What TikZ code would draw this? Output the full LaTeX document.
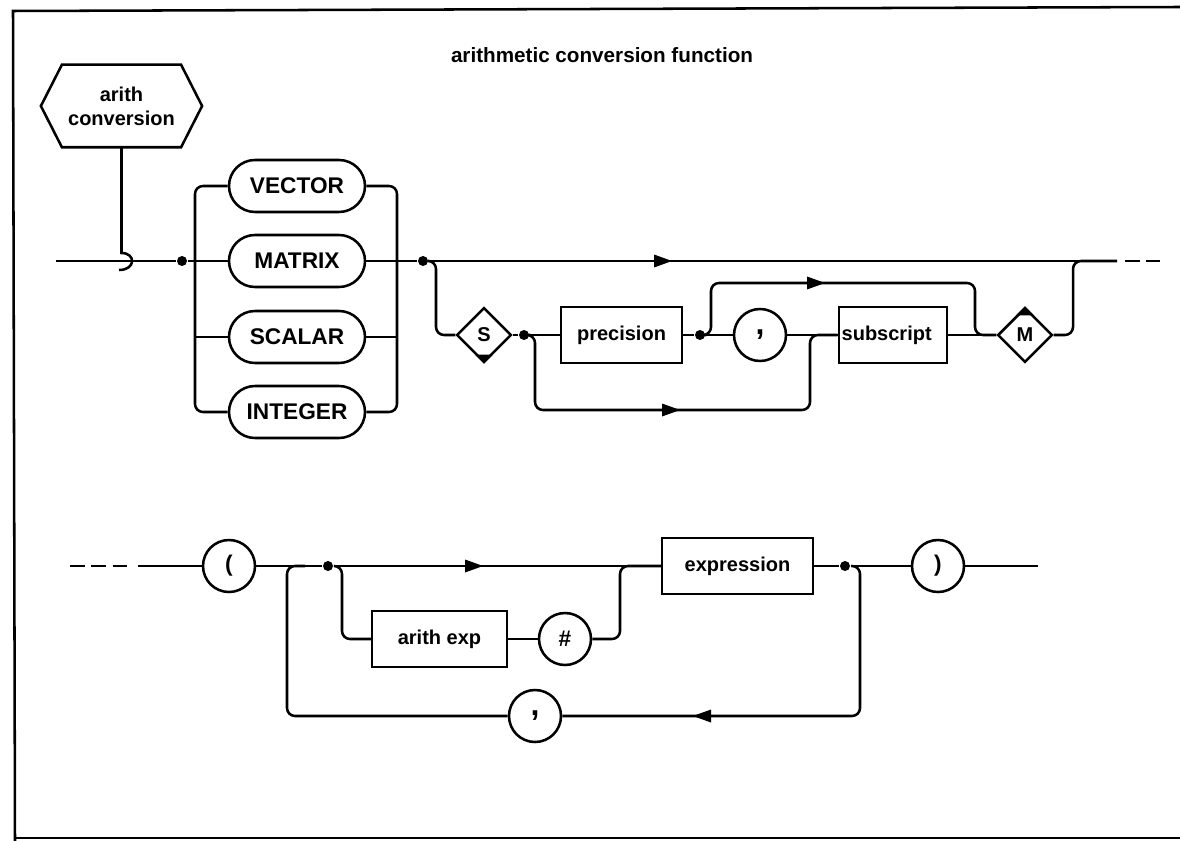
\documentclass[tikz,border=0pt]{standalone}
\usepackage{fontspec}
\setmainfont{Liberation Sans}
\usetikzlibrary{shapes.geometric,shapes.misc,calc}
\begin{document}
\begin{tikzpicture}[x=0.75pt,y=-0.75pt, line width=1.9pt,
  kw/.style={draw, rounded rectangle, minimum width=102pt, minimum height=39pt, inner sep=0pt, font=\fontsize{17}{20}\bfseries\selectfont},
  box/.style={draw, rectangle, minimum height=42pt, inner sep=0pt, font=\fontsize{15}{18}\bfseries\selectfont},
  term/.style={draw, circle, minimum size=39pt, inner sep=0pt, font=\fontsize{17}{20}\bfseries\selectfont},
  commaterm/.style={term, font=\fontsize{24}{24}\bfseries\selectfont},
  dia/.style={draw, diamond, minimum width=41pt, minimum height=41pt, inner sep=0pt, font=\fontsize{15}{18}\bfseries\selectfont},
  dot/.style={circle, fill, inner sep=0pt, minimum size=7.5pt},
  conn/.style={rounded corners=6pt},
  arrR/.pic={\fill (0,0) -- (-18,-6.5) -- (-18,6.5) -- cycle;},
  arrL/.pic={\fill (0,0) -- (18,-6.5) -- (18,6.5) -- cycle;}
]
\useasboundingbox (0,0) rectangle (1180,841);
\fill[white] (0,0) rectangle (1180,841);

% frame
\draw (1180,7) -- (13,11) -- (15,841);
\draw (15,838) -- (1180,838);

% title
\node[font=\fontsize{15.5}{18}\bfseries\selectfont] (title) at (602,55) {arithmetic conversion function};

% hexagon
\node[minimum width=119pt, minimum height=60pt, inner sep=0pt, align=center, font=\fontsize{15}{18}\bfseries\selectfont] (hex) at (121.5,106) {arith\\conversion};
\draw ($(hex.north west)+(21,0)$) -- ($(hex.north east)+(-21,0)$) -- (hex.east) -- ($(hex.south east)+(-21,0)$) -- ($(hex.south west)+(21,0)$) -- (hex.west) -- cycle;

% hook
\coordinate (hk1) at (121.5,253);
\coordinate (hk2) at (119,270);
\draw (hex.south) -- (hk1) .. controls (136,253) and (136,270) .. (hk2);

% keyword alternatives
\coordinate (start) at (56,261);
\node[dot] (j1) at (182,261) {};
\node[kw] (vector) at (297,186) {VECTOR};
\node[kw] (matrix) at (297,261) {MATRIX};
\node[kw] (scalar) at (297,337) {SCALAR};
\node[kw] (integer) at (297,412) {INTEGER};
\coordinate (L) at (195,261);
\coordinate (R) at (397,261);
\draw (start) -- (j1) -- (matrix.west);
\draw[conn] (vector.west) -| (L) |- (integer.west);
\draw (scalar.west) -- (scalar.west -| L);
\draw[conn] (vector.east) -| (R) |- (integer.east);
\draw (scalar.east) -- (scalar.east -| R);

% main line
\node[dot] (j2) at (423,261) {};
\coordinate (mainend) at (1117,261);
\coordinate (d0) at (1125,261);
\coordinate (dashend) at (1160,261);
\draw (matrix.east) -- (j2) -- (mainend);
\draw[dash pattern=on 11pt off 5pt] (d0) -- (dashend);
\coordinate (a1) at (672,261);
\path (a1) pic {arrR};

% S / precision / subscript / M
\node[dia] (S) at (484,335) {S};
\fill (S.south) -- ($(S.south)+(-9,-9)$) -- ($(S.south)+(9,-9)$) -- cycle;
\coordinate (sb) at (436,335);
\draw[conn] (j2) -| (sb) -- (S.west);
\node[dot] (j3) at (524,335) {};
\node[box, minimum width=91pt] (prec) at (621.5,335) {precision};
\node[dot] (j4) at (700,335) {};
\node[commaterm] (comma1) at (760,335) {,};
\node[box, minimum width=81pt, text width=77pt, inner xsep=2pt, align=left] (sub) at (893,335) {subscript};
\node[dia] (M) at (1025,335) {M};
\fill (M.north) -- ($(M.north)+(-9,9)$) -- ($(M.north)+(9,9)$) -- cycle;
\draw (S.east) -- (j3) -- (prec.west);
\draw (prec.east) -- (j4) -- (comma1.west);
\draw (comma1.east) -- (sub.west);
\draw (sub.east) -- (M.west);

\coordinate (u1) at (711,283);
\coordinate (u2) at (975,283);
\draw[conn] (j4) -| (u1) -- (u2) |- (M.west);
\coordinate (a2) at (825,283);
\path (a2) pic {arrR};

\coordinate (l1) at (535,410);
\coordinate (l2) at (810,410);
\draw[conn] (j3) -| (l1) -- (l2) |- (sub.west);
\coordinate (a3) at (680,410);
\path (a3) pic {arrR};

\coordinate (mr) at (1073,261);
\draw[conn] (M.east) -| (mr) -- (mainend);

% bottom row
\coordinate (b0) at (70,566);
\coordinate (b1) at (128,566);
\coordinate (b2) at (138,566);
\draw[dash pattern=on 11pt off 5pt] (b0) -- (b1);
\node[term] (lp) at (229,566) {(};
\draw (b2) -- (lp.west);
\node[dot] (j5) at (328,566) {};
\node[box, minimum width=113pt] (expr) at (737.5,566) {expression};
\draw (lp.east) -- (j5) -- (expr.west);
\coordinate (a4) at (483,566);
\path (a4) pic {arrR};

\node[box, minimum width=101pt] (aexp) at (439.5,639) {arith exp};
\node[term] (hash) at (565,639) {\#};
\coordinate (ab) at (342,639);
\draw[conn] (j5) -| (ab) -- (aexp.west);
\draw (aexp.east) -- (hash.west);
\coordinate (hb) at (620,566);
\draw[conn] (hash.east) -| (hb) -- (expr.west);

\node[dot] (j6) at (845,566) {};
\node[term] (rp) at (938,566) {)};
\coordinate (endb) at (1038,566);
\draw (expr.east) -- (j6) -- (rp.west);
\draw (rp.east) -- (endb);

\coordinate (rr) at (860,716);
\node[commaterm] (comma2) at (535,716) {,};
\coordinate (rl) at (287,716);
\coordinate (rt) at (305,566);
\draw[conn] (j6) -| (rr) -- (comma2.east);
\draw[conn] (comma2.west) -- (rl) |- (rt);
\coordinate (a5) at (693,716);
\path (a5) pic {arrL};
\end{tikzpicture}
\end{document}
